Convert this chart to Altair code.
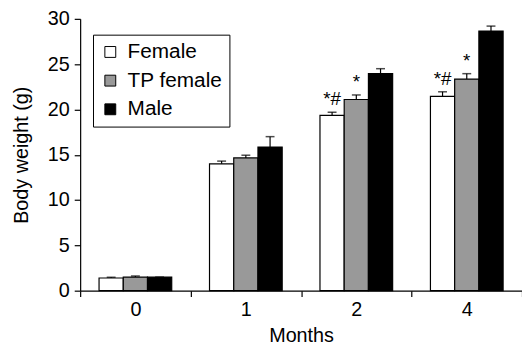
import altair as alt
import pandas as pd

months = ["0", "1", "2", "4"]
groups = ["Female", "TP female", "Male"]
female = [1.4, 14.0, 19.35, 21.45]
female_err = [0.08, 0.3, 0.35, 0.5]
tp_female = [1.5, 14.65, 21.1, 23.35]
tp_female_err = [0.12, 0.3, 0.5, 0.6]
male = [1.5, 15.85, 23.95, 28.65]
male_err = [0.0, 1.15, 0.55, 0.55]
female_marks = ["", "", "*#", "*#"]
tp_female_marks = ["", "", "*", "*"]
male_marks = ["", "", "", ""]
colors = ["white", "#999999", "black"]

rows = []
for g, vals, errs, marks in [
    ("Female", female, female_err, female_marks),
    ("TP female", tp_female, tp_female_err, tp_female_marks),
    ("Male", male, male_err, male_marks),
]:
    for m, v, e, mk in zip(months, vals, errs, marks):
        rows.append({"month": m, "group": g, "value": v, "top": v + e, "mark": mk})
df = pd.DataFrame(rows)

FONT = "Liberation Sans"

x = alt.X("month:O", title="Months", sort=months,
          scale=alt.Scale(paddingInner=0, paddingOuter=0),
          axis=alt.Axis(labelAngle=0, tickBand="extent"))
xo = alt.XOffset("group:N", sort=groups,
                 scale=alt.Scale(paddingInner=0, paddingOuter=0.78))

base = alt.Chart(df).encode(x=x, xOffset=xo)

bars = base.mark_bar(stroke="black", strokeWidth=1.2).encode(
    y=alt.Y("value:Q", title="Body weight (g)",
            scale=alt.Scale(domain=[0, 30], nice=False),
            axis=alt.Axis(values=[0, 5, 10, 15, 20, 25, 30])),
    fill=alt.Fill("group:N", sort=groups,
                  scale=alt.Scale(domain=groups, range=colors),
                  legend=alt.Legend(
                      orient="none", legendX=13, legendY=16, title=None,
                      fillColor="white", strokeColor="black", padding=7,
                      symbolType="square", symbolSize=121,
                      symbolStrokeColor="black", symbolStrokeWidth=1,
                      symbolOpacity=1,
                      labelFontSize=21, labelFont=FONT, labelColor="black",
                      rowPadding=7, labelOffset=7, labelLimit=300)),
)

err = base.mark_rule(color="black", strokeWidth=1.2).encode(
    y="value:Q", y2="top:Q")
cap = base.mark_tick(color="black", orient="horizontal", size=9, thickness=1.5).encode(
    y="top:Q")
txt = base.mark_text(font=FONT, fontSize=19, baseline="bottom", dy=-3, color="black").encode(
    y="top:Q", text="mark:N")

chart = alt.layer(bars, err, cap, txt).properties(
    width=447, height=275,
    autosize=alt.AutoSizeParams(type="none"),
    padding={"left": 73, "top": 9, "right": 0, "bottom": 55},
).configure_view(stroke=None).configure_axis(
    grid=False, domainColor="black", tickColor="black", labelColor="black",
    titleColor="black", labelFont=FONT, titleFont=FONT, labelFontSize=20,
    titleFontSize=20, titleFontWeight="normal", tickSize=6, domainWidth=1.2,
    tickWidth=1.2,
).configure_axisY(labelPadding=5, titlePadding=16).configure_axisX(
    labelPadding=3, titlePadding=6)

chart.save("out.html", embed_options={"renderer": "svg", "actions": False})
